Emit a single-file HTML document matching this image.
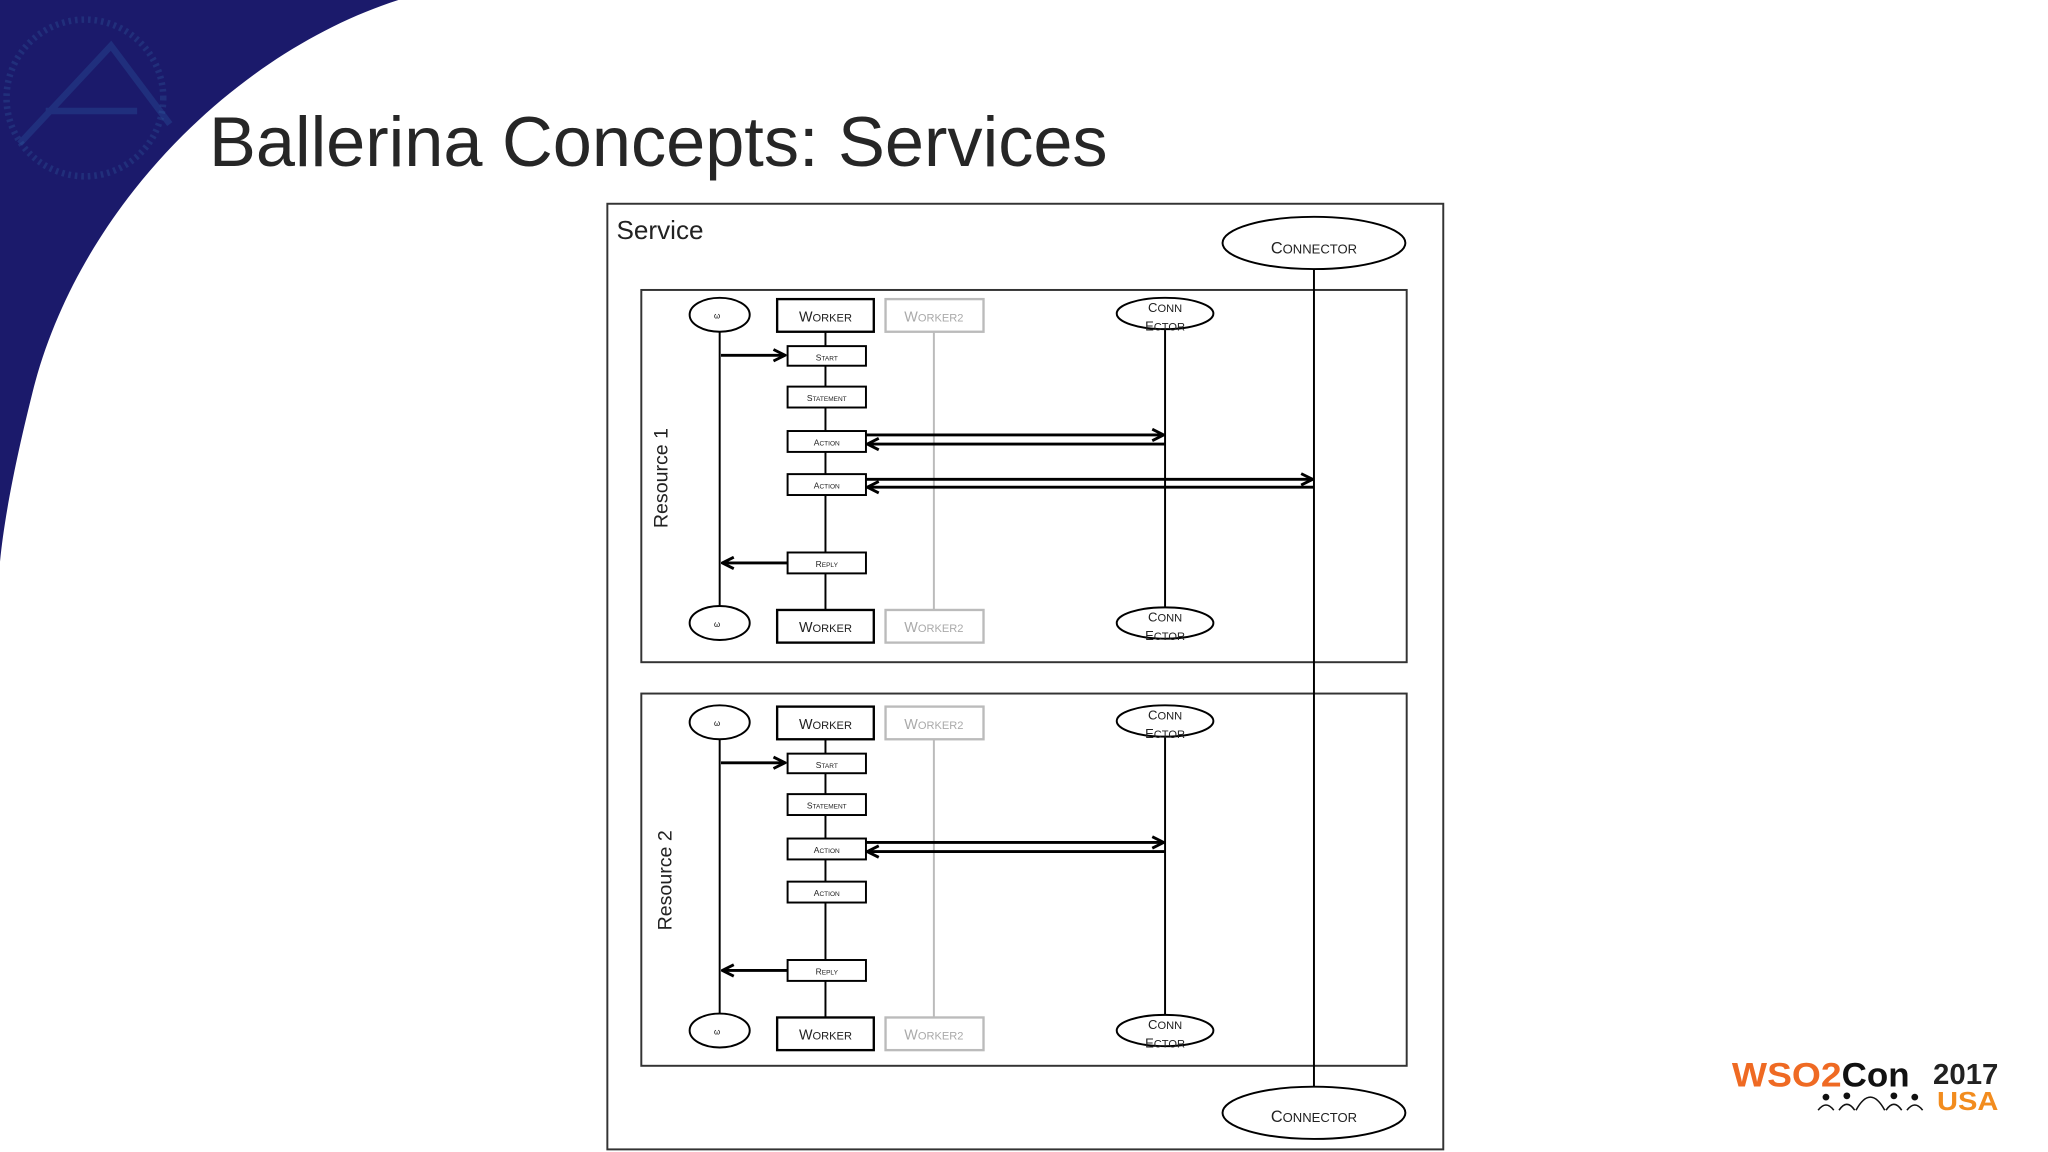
<!DOCTYPE html>
<html><head><meta charset="utf-8"><style>
html,body{margin:0;padding:0;background:#fff;}
svg{display:block;}
text{font-family:"Liberation Sans",sans-serif;}
</style></head><body>
<svg width="2048" height="1152" viewBox="0 0 1568 882" xmlns="http://www.w3.org/2000/svg">
<defs>
<marker id="ah" viewBox="0 0 10 10" refX="9" refY="5" markerWidth="5" markerHeight="5" orient="auto"><path d="M1,1 L9,5 L1,9" fill="none" stroke="#000" stroke-width="2"/></marker>
</defs>
<rect width="1568" height="882" fill="#fff"/>
<path d="M0,0 L305,0 C180,40 60,160 25,300 C10,360 3,400 0,430 Z" fill="#1b1a6b"/>
<path d="M15,110 L85,35 L130,95 M35,85 L105,85" stroke="#2a5aa0" stroke-width="5" fill="none" opacity="0.35"/>
<circle cx="65" cy="75" r="60" fill="none" stroke="#2d5a9a" stroke-width="5" stroke-dasharray="2 3" opacity="0.35"/>
<text x="160" y="127" font-size="54" fill="#262626" textLength="688" lengthAdjust="spacingAndGlyphs">Ballerina Concepts: Services</text>

<rect x="465" y="156" width="640" height="724" fill="#fff" stroke="#333" stroke-width="1.5"/>
<text x="472" y="183" font-size="20" fill="#222">Service</text>
<ellipse cx="1006" cy="186" rx="70" ry="20" fill="#fff" stroke="#000" stroke-width="1.5"/>
<text x="1006" y="194" font-size="12.5" text-anchor="middle" fill="#222">C<tspan font-size="10">ONNECTOR</tspan></text>
<ellipse cx="1006" cy="852" rx="70" ry="20" fill="#fff" stroke="#000" stroke-width="1.5"/>
<text x="1006" y="859" font-size="12.5" text-anchor="middle" fill="#222">C<tspan font-size="10">ONNECTOR</tspan></text>

<g>
<rect x="491" y="222" width="586" height="285" fill="#fff" stroke="#333" stroke-width="1.5"/>
<text transform="translate(511,366) rotate(-90)" font-size="15" text-anchor="middle" fill="#222">Resource 1</text>
<line x1="551" y1="254" x2="551" y2="464" stroke="#000" stroke-width="1.5"/>
<line x1="632" y1="254" x2="632" y2="467" stroke="#000" stroke-width="1.5"/>
<line x1="715" y1="254" x2="715" y2="467" stroke="#bbb" stroke-width="1.5"/>
<line x1="892" y1="252" x2="892" y2="465" stroke="#000" stroke-width="1.5"/>
<ellipse cx="551" cy="241" rx="23" ry="13" fill="#fff" stroke="#000" stroke-width="1.5"/>
<ellipse cx="551" cy="477" rx="23" ry="13" fill="#fff" stroke="#000" stroke-width="1.5"/>
<text x="549" y="244" font-size="6" text-anchor="middle">ω</text>
<text x="549" y="480" font-size="6" text-anchor="middle">ω</text>
<rect x="595" y="229" width="74" height="25" fill="#fff" stroke="#000" stroke-width="1.8"/>
<text x="632" y="246" font-size="11" text-anchor="middle" fill="#222">W<tspan font-size="8.5">ORKER</tspan></text>
<rect x="595" y="467" width="74" height="25" fill="#fff" stroke="#000" stroke-width="1.8"/>
<text x="632" y="484" font-size="11" text-anchor="middle" fill="#222">W<tspan font-size="8.5">ORKER</tspan></text>
<rect x="678" y="229" width="75" height="25" fill="#fff" stroke="#bbb" stroke-width="1.8"/>
<text x="715" y="246" font-size="11" text-anchor="middle" fill="#aaa">W<tspan font-size="8.5">ORKER2</tspan></text>
<rect x="678" y="467" width="75" height="25" fill="#fff" stroke="#bbb" stroke-width="1.8"/>
<text x="715" y="484" font-size="11" text-anchor="middle" fill="#aaa">W<tspan font-size="8.5">ORKER2</tspan></text>
<ellipse cx="892" cy="240" rx="37" ry="12" fill="#fff" stroke="#000" stroke-width="1.5"/>
<text x="892" y="239" font-size="10" text-anchor="middle" fill="#222">C<tspan font-size="8.5">ONN</tspan></text>
<text x="892" y="253" font-size="10" text-anchor="middle" fill="#222">E<tspan font-size="8.5">CTOR</tspan></text>
<ellipse cx="892" cy="477" rx="37" ry="12" fill="#fff" stroke="#000" stroke-width="1.5"/>
<text x="892" y="476" font-size="10" text-anchor="middle" fill="#222">C<tspan font-size="8.5">ONN</tspan></text>
<text x="892" y="490" font-size="10" text-anchor="middle" fill="#222">E<tspan font-size="8.5">CTOR</tspan></text>
<g stroke="#000" stroke-width="1.5" fill="#fff">
<rect x="603" y="265" width="60" height="15"/><rect x="603" y="296" width="60" height="16"/>
<rect x="603" y="330" width="60" height="16"/><rect x="603" y="363" width="60" height="16"/>
<rect x="603" y="423" width="60" height="16"/>
</g>
<g font-size="6.5" text-anchor="middle" fill="#222">
<text x="633" y="276">S<tspan font-size="5">TART</tspan></text>
<text x="633" y="307">S<tspan font-size="5">TATEMENT</tspan></text>
<text x="633" y="341">A<tspan font-size="5">CTION</tspan></text>
<text x="633" y="374">A<tspan font-size="5">CTION</tspan></text>
<text x="633" y="434">R<tspan font-size="5">EPLY</tspan></text>
</g>
<g stroke="#000" stroke-width="2.2" fill="none" marker-end="url(#ah)">
<line x1="552" y1="272" x2="601" y2="272"/>
<line x1="663" y1="333" x2="891" y2="333"/>
<line x1="892" y1="340" x2="664" y2="340"/>
<line x1="663" y1="367" x2="1005" y2="367"/>
<line x1="1006" y1="373" x2="664" y2="373"/>
<line x1="603" y1="431" x2="553" y2="431"/>
</g>
</g>

<g transform="translate(0,312)">
<rect x="491" y="219" width="586" height="285" fill="#fff" stroke="#333" stroke-width="1.5"/>
<text transform="translate(514,362) rotate(-90)" font-size="15" text-anchor="middle" fill="#222">Resource 2</text>
<line x1="551" y1="254" x2="551" y2="464" stroke="#000" stroke-width="1.5"/>
<line x1="632" y1="254" x2="632" y2="467" stroke="#000" stroke-width="1.5"/>
<line x1="715" y1="254" x2="715" y2="467" stroke="#bbb" stroke-width="1.5"/>
<line x1="892" y1="252" x2="892" y2="465" stroke="#000" stroke-width="1.5"/>
<ellipse cx="551" cy="241" rx="23" ry="13" fill="#fff" stroke="#000" stroke-width="1.5"/>
<ellipse cx="551" cy="477" rx="23" ry="13" fill="#fff" stroke="#000" stroke-width="1.5"/>
<text x="549" y="244" font-size="6" text-anchor="middle">ω</text>
<text x="549" y="480" font-size="6" text-anchor="middle">ω</text>
<rect x="595" y="229" width="74" height="25" fill="#fff" stroke="#000" stroke-width="1.8"/>
<text x="632" y="246" font-size="11" text-anchor="middle" fill="#222">W<tspan font-size="8.5">ORKER</tspan></text>
<rect x="595" y="467" width="74" height="25" fill="#fff" stroke="#000" stroke-width="1.8"/>
<text x="632" y="484" font-size="11" text-anchor="middle" fill="#222">W<tspan font-size="8.5">ORKER</tspan></text>
<rect x="678" y="229" width="75" height="25" fill="#fff" stroke="#bbb" stroke-width="1.8"/>
<text x="715" y="246" font-size="11" text-anchor="middle" fill="#aaa">W<tspan font-size="8.5">ORKER2</tspan></text>
<rect x="678" y="467" width="75" height="25" fill="#fff" stroke="#bbb" stroke-width="1.8"/>
<text x="715" y="484" font-size="11" text-anchor="middle" fill="#aaa">W<tspan font-size="8.5">ORKER2</tspan></text>
<ellipse cx="892" cy="240" rx="37" ry="12" fill="#fff" stroke="#000" stroke-width="1.5"/>
<text x="892" y="239" font-size="10" text-anchor="middle" fill="#222">C<tspan font-size="8.5">ONN</tspan></text>
<text x="892" y="253" font-size="10" text-anchor="middle" fill="#222">E<tspan font-size="8.5">CTOR</tspan></text>
<ellipse cx="892" cy="477" rx="37" ry="12" fill="#fff" stroke="#000" stroke-width="1.5"/>
<text x="892" y="476" font-size="10" text-anchor="middle" fill="#222">C<tspan font-size="8.5">ONN</tspan></text>
<text x="892" y="490" font-size="10" text-anchor="middle" fill="#222">E<tspan font-size="8.5">CTOR</tspan></text>
<g stroke="#000" stroke-width="1.5" fill="#fff">
<rect x="603" y="265" width="60" height="15"/><rect x="603" y="296" width="60" height="16"/>
<rect x="603" y="330" width="60" height="16"/><rect x="603" y="363" width="60" height="16"/>
<rect x="603" y="423" width="60" height="16"/>
</g>
<g font-size="6.5" text-anchor="middle" fill="#222">
<text x="633" y="276">S<tspan font-size="5">TART</tspan></text>
<text x="633" y="307">S<tspan font-size="5">TATEMENT</tspan></text>
<text x="633" y="341">A<tspan font-size="5">CTION</tspan></text>
<text x="633" y="374">A<tspan font-size="5">CTION</tspan></text>
<text x="633" y="434">R<tspan font-size="5">EPLY</tspan></text>
</g>
<g stroke="#000" stroke-width="2.2" fill="none" marker-end="url(#ah)">
<line x1="552" y1="272" x2="601" y2="272"/>
<line x1="663" y1="333" x2="891" y2="333"/>
<line x1="892" y1="340" x2="664" y2="340"/>
<line x1="603" y1="431" x2="553" y2="431"/>
</g>
</g>

<line x1="1006" y1="206" x2="1006" y2="832" stroke="#000" stroke-width="1.5"/>

<g font-weight="bold">
<text x="1326" y="832" font-size="26" fill="#ef6a23" textLength="84" lengthAdjust="spacingAndGlyphs">WSO2</text>
<text x="1410" y="832" font-size="26" fill="#111" textLength="52" lengthAdjust="spacingAndGlyphs">Con</text>
<text x="1480" y="830" font-size="22" fill="#222" textLength="50" lengthAdjust="spacingAndGlyphs">2017</text>
<text x="1483" y="850" font-size="20" fill="#f28c1e" textLength="47" lengthAdjust="spacingAndGlyphs">USA</text>
</g>
<g fill="#111" stroke="#111" stroke-width="1.2">
<circle cx="1398" cy="840" r="2"/><circle cx="1414" cy="839" r="2"/><circle cx="1450" cy="839" r="2"/><circle cx="1466" cy="840" r="2"/>
<path d="M1392,850 Q1398,842 1404,850 M1408,850 Q1414,841 1420,850 M1421,850 Q1432,830 1443,850 M1444,850 Q1450,841 1456,850 M1460,850 Q1466,842 1472,850" fill="none"/>
</g>
</svg>
</body></html>
